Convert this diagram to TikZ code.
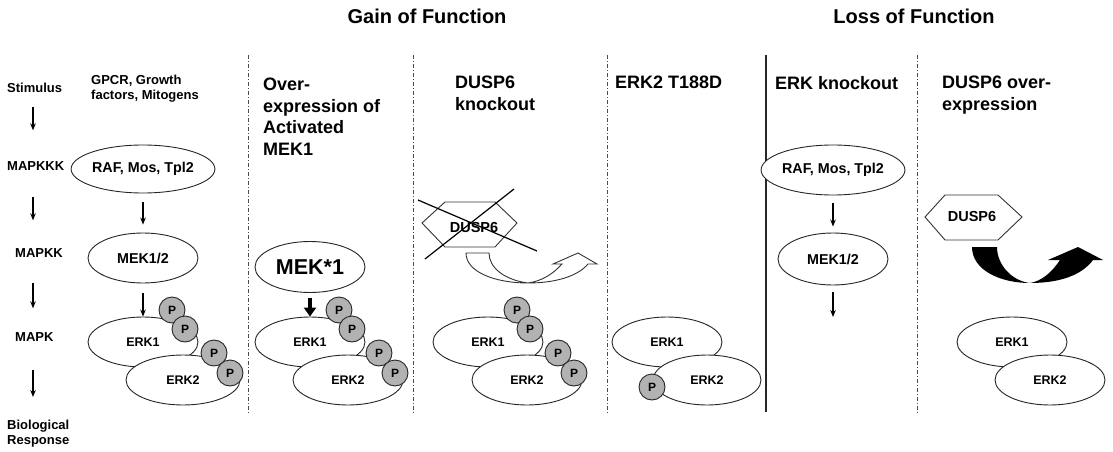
\documentclass[tikz,border=0pt]{standalone}
\usepackage{fontspec}
\setmainfont{Liberation Sans}
\usetikzlibrary{arrows.meta,shapes.geometric}
\begin{document}
\begin{tikzpicture}[x=1pt,y=-1pt,
  every node/.style={inner sep=0pt},
  lab/.style={font=\fontsize{13}{15}\selectfont\bfseries, align=left},
  colhead/.style={font=\fontsize{18}{21.5}\selectfont\bfseries, align=left, anchor=north west},
  title/.style={font=\fontsize{20}{24}\selectfont\bfseries},
  prot/.style={ellipse, draw=black!85, line width=0.9pt, fill=white, minimum width=110pt, minimum height=50pt, font=\fontsize{12.5}{15}\selectfont\bfseries},
  upper/.style={font=\fontsize{14.3}{16}\selectfont\bfseries},
  phos/.style={circle, draw=black!85, line width=0.9pt, fill=black!30, minimum size=26pt, font=\fontsize{12}{14}\selectfont\bfseries},
  arr/.style={-{Stealth[length=7pt,width=5.5pt]}, line width=1.1pt},
  bigarr/.style={-{Triangle[length=9pt,width=12pt]}, line width=3.2pt},
  divider/.style={draw=black!70, line width=0.9pt, dash pattern=on 4pt off 2pt on 1pt off 2pt},
  hexa/.style={draw=black!80, line width=0.9pt, fill=white},
  hexlabel/.style={font=\fontsize{14.5}{16}\selectfont\bfseries},
]
\useasboundingbox (0,0) rectangle (1113,452);

% titles
\node[title] (gain) at (427,16) {Gain of Function};
\node[title] (loss) at (914,16) {Loss of Function};

% dividers
\draw[divider] (248,55) -- (248,413);
\draw[divider] (413,55) -- (413,413);
\draw[divider] (607,55) -- (607,413);
\draw[black!85, line width=1.6pt] (766,55) -- (766,412);
\draw[divider] (917,55) -- (917,413);

% left column
\node[lab, anchor=west] (stim) at (7,88) {Stimulus};
\node[lab, anchor=west] (mkkk) at (7,166) {MAPKKK};
\node[lab, anchor=west] (mkk) at (15,253) {MAPKK};
\node[lab, anchor=west] (mk) at (15,337) {MAPK};
\node[lab, anchor=north west] (bio) at (7,420) {Biological\\Response};
\coordinate (ax) at (33,0);
\draw[arr, shorten <=14pt, shorten >=31pt] (stim.south -| ax) -- (mkkk.north -| ax);
\draw[arr, shorten <=26pt, shorten >=28pt] (mkkk.south -| ax) -- (mkk.north -| ax);
\draw[arr, shorten <=25pt, shorten >=24pt] (mkk.south -| ax) -- (mk.north -| ax);
\draw[arr, shorten <=28pt, shorten >=23pt] (mk.south -| ax) -- (bio.north -| ax);

% column 1: normal pathway
\node[lab, anchor=north west] (gpcr) at (91,75) {GPCR, Growth\\factors, Mitogens};
\node[prot, upper, minimum height=48pt] (raf1) at (143,169) {RAF, Mos, Tpl2};
\node[prot, upper] (mek1) at (143,258) {MEK1/2};
\node[prot] (erk1a) at (143,342) {ERK1};
\node[prot, minimum width=114pt] (erk2a) at (183,380) {ERK2};
\draw[arr, shorten <=9pt, shorten >=8pt] (raf1) -- (mek1);
\draw[arr, shorten <=10pt] (mek1) -- (erk1a);
\node[phos] (pa1) at (172,310) {P};
\node[phos] (pa2) at (185,329) {P};
\node[phos] (pa3) at (214,353) {P};
\node[phos] (pa4) at (230,373) {P};

% column 2: activated MEK1
\node[colhead] (h2) at (263,78) {Over-\\expression of\\Activated\\MEK1};
\node[prot, minimum height=51pt, font=\fontsize{21.5}{24}\selectfont\bfseries] (mekstar) at (310,267) {MEK*1};
\node[prot] (erk1b) at (310,342) {ERK1};
\node[prot] (erk2b) at (348,380) {ERK2};
\draw[bigarr, shorten <=5pt] (mekstar) -- (erk1b);
\node[phos] (pb1) at (339,310) {P};
\node[phos] (pb2) at (352,329) {P};
\node[phos] (pb3) at (379,353) {P};
\node[phos] (pb4) at (395,373) {P};

% column 3: DUSP6 knockout
\node[colhead] (h3) at (455,76) {DUSP6\\knockout};
\draw[hexa] (422,223) -- (445,202) -- (495,202) -- (517,223) -- (495,247) -- (445,247) -- cycle;
\node[hexlabel] (dusp3) at (474,228) {DUSP6};
\draw[line width=1.2pt] (418,200) -- (537,251);
\draw[line width=1.2pt] (425,259) -- (514,189);
\draw[draw=black!80, line width=0.9pt, fill=white]
  (466,253) .. controls (466,272) and (495,283) .. (528,283)
  .. controls (556,283) and (578,276) .. (588,264)
  -- (597,264) -- (578,253) -- (553,264) -- (562,264)
  .. controls (553,274) and (542,281) .. (528,283)
  .. controls (505,280) and (489,268) .. (489,253) -- cycle;
\node[prot] (erk1c) at (488,342) {ERK1};
\node[prot] (erk2c) at (527,380) {ERK2};
\node[phos] (pc1) at (517,310) {P};
\node[phos] (pc2) at (530,329) {P};
\node[phos] (pc3) at (558,353) {P};
\node[phos] (pc4) at (574,373) {P};

% column 4: ERK2 T188D
\node[colhead] (h4) at (615,76) {ERK2 T188D};
\node[prot] (erk1d) at (667,342) {ERK1};
\node[prot, minimum width=108pt] (erk2d) at (707,380) {ERK2};
\node[phos] (pd1) at (652,387) {P};

% column 5: ERK knockout
\node[colhead] (h5) at (775,76) {ERK knockout};
\node[prot, upper] (raf5) at (833,170) {RAF, Mos, Tpl2};
\node[prot, upper, minimum height=52pt] (mek5) at (833,259) {MEK1/2};
\coordinate (end5) at (833,317);
\draw[arr, shorten <=8pt, shorten >=6pt] (raf5) -- (mek5);
\draw[arr, shorten <=7pt] (mek5) -- (end5);

% column 6: DUSP6 over-expression
\node[colhead] (h6) at (942,76) {DUSP6 over-\\expression};
\draw[hexa] (925,217) -- (945,195) -- (998,195) -- (1022,217) -- (998,240) -- (945,240) -- cycle;
\node[hexlabel] (dusp6) at (972,217) {DUSP6};
\fill[black]
  (972,247) .. controls (972,270) and (1000,283) .. (1030,283)
  .. controls (1060,283) and (1082,275) .. (1093,260)
  -- (1103,260) -- (1078,247) -- (1048,260) -- (1060,260)
  .. controls (1052,272) and (1042,281) .. (1030,283)
  .. controls (1012,281) and (997,265) .. (997,247) -- cycle;
\node[prot] (erk1f) at (1012,342) {ERK1};
\node[prot] (erk2f) at (1050,380) {ERK2};
\end{tikzpicture}
\end{document}
